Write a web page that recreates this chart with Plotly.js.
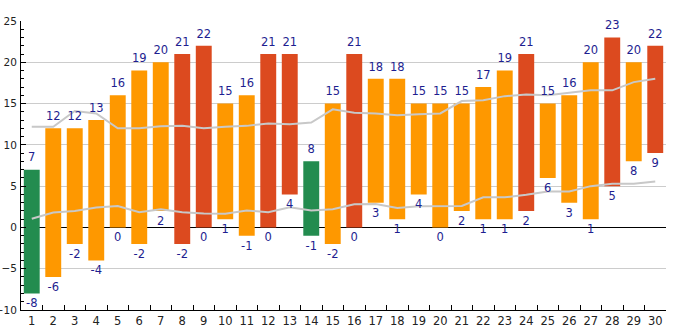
<!DOCTYPE html>
<html>
<head>
<meta charset="utf-8">
<script src="https://cdn.plot.ly/plotly-3.0.1.min.js"></script>
<style>html,body{margin:0;padding:0;background:#fff;}#chart{width:685px;height:330px;}</style>
</head>
<body>
<div id="chart"></div>
<script>
const categories = ["1","2","3","4","5","6","7","8","9","10","11","12","13","14","15","16","17","18","19","20","21","22","23","24","25","26","27","28","29","30"];
const highs = [7,12,12,13,16,19,20,21,22,15,16,21,21,8,15,21,18,18,15,15,15,17,19,21,15,16,20,23,20,22];
const lows = [-8,-6,-2,-4,0,-2,2,-2,0,1,-1,0,4,-1,-2,0,3,1,4,0,2,1,1,2,6,3,1,5,8,9];
const upperAvg = [12.2,12.2,14.1,13.8,12.0,12.0,12.25,12.3,12.0,12.2,12.3,12.6,12.5,12.7,14.3,13.9,13.8,13.6,13.7,13.8,15.3,15.4,15.9,16.1,16.0,16.3,16.6,16.6,17.6,18.0];
const lowerAvg = [1.05,1.8,2.0,2.4,2.6,1.85,2.2,1.85,1.7,1.65,2.05,1.85,2.45,2.05,2.2,2.8,2.85,2.35,2.55,2.6,2.6,3.65,3.65,3.95,4.35,4.35,5.0,5.3,5.3,5.55];

const GREEN = '#238c4f', ORANGE = '#fe9800', RED = '#dc4a1f';
const colors = highs.map(h => h >= 21 ? RED : (h <= 10 ? GREEN : ORANGE));
const font = 'DejaVu Sans';
const labelColor = '#1e1e90';
const ghost = {size: 7, color: 'rgba(0,0,0,0)', line: {width: 0}};

const traces = [
  {
    type: 'bar', x: categories, y: highs.map((h, i) => h - lows[i]), base: lows,
    marker: {color: colors, line: {width: 0}}, width: 0.74, hoverinfo: 'skip'
  },
  {
    type: 'scatter', mode: 'lines', x: categories, y: upperAvg,
    line: {color: '#c8c8c8', width: 2}, hoverinfo: 'skip'
  },
  {
    type: 'scatter', mode: 'lines', x: categories, y: lowerAvg,
    line: {color: '#c8c8c8', width: 2}, hoverinfo: 'skip'
  },
  {
    type: 'scatter', mode: 'markers+text', x: categories, y: highs, text: highs.map(String),
    marker: ghost,
    textposition: 'top center', textfont: {family: font, size: 11.5, color: labelColor},
    cliponaxis: false, hoverinfo: 'skip'
  },
  {
    type: 'scatter', mode: 'markers+text', x: categories, y: lows, text: lows.map(String),
    marker: ghost,
    textposition: 'bottom center', textfont: {family: font, size: 11.5, color: labelColor},
    cliponaxis: false, hoverinfo: 'skip'
  }
];

const layout = {
  width: 685, height: 330,
  margin: {l: 21, r: 19, t: 21, b: 20, pad: 0},
  paper_bgcolor: '#fff', plot_bgcolor: '#fff',
  showlegend: false,
  font: {family: font, size: 11, color: '#222'},
  xaxis: {
    type: 'category', range: [-0.5, 29.5], fixedrange: true,
    showline: true, linecolor: '#000', linewidth: 1,
    ticks: 'inside', tickson: 'boundaries', ticklen: 5, tickcolor: '#000',
    tickangle: 0,
    showgrid: false, zeroline: false, automargin: false,
    tickfont: {family: font, size: 11.5, color: '#222'}
  },
  yaxis: {
    range: [-10, 25], dtick: 5, tick0: 0, fixedrange: true,
    showline: true, linecolor: '#000', linewidth: 1,
    ticks: 'inside', ticklen: 5, tickcolor: '#000',
    minor: {dtick: 1, ticks: 'inside', ticklen: 3, tickcolor: '#000', showgrid: false},
    showgrid: true, gridcolor: '#cccccc', gridwidth: 1,
    zeroline: true, zerolinecolor: '#000', zerolinewidth: 1,
    automargin: false, ticklabelstandoff: 1,
    tickfont: {family: font, size: 10.5, color: '#222'}
  }
};

Plotly.newPlot('chart', traces, layout, {staticPlot: true, displayModeBar: false});
</script>
</body>
</html>
